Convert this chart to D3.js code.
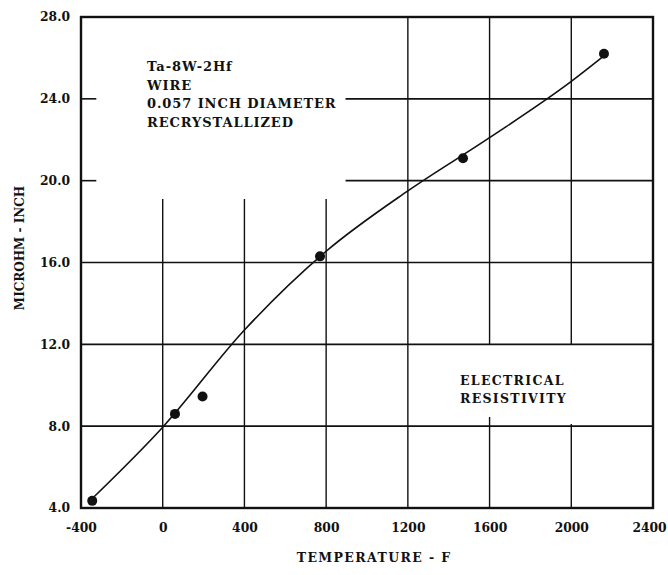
<!DOCTYPE html>
<html>
<head>
<meta charset="utf-8">
<script src="https://cdn.jsdelivr.net/npm/d3@7"></script>
<style>
  html, body { margin: 0; padding: 0; background: #fff; }
  #content { width: 668px; height: 575px; }
  text { font-family: "DejaVu Serif", serif; fill: #111; }
</style>
</head>
<body>
<div id="content"></div>
<script>
// measured points, temperature (F) vs resistivity (microhm-inch)
var tempF = [-345, 60, 195, 770, 1470, 2160];
var resistivity = [4.35, 8.6, 9.45, 16.3, 21.1, 26.2];

// faired curve through the data
var curveTemp = [-336, 0, 400, 800, 1200, 1600, 2000, 2160];
var curveRes = [4.55, 7.95, 12.7, 16.55, 19.5, 22.1, 24.85, 26.1];

var xTickValues = [-400, 0, 400, 800, 1200, 1600, 2000, 2400];
var xTickLabels = ["-400", "0", "400", "800", "1200", "1600", "2000", "2400"];
var yTickValues = [4, 8, 12, 16, 20, 24, 28];
var yTickLabels = ["4.0", "8.0", "12.0", "16.0", "20.0", "24.0", "28.0"];

// grid segments (some lines are broken around the notes)
var hGrid = [[24, -400, -325], [24, 895, 2400], [20, -400, -325], [20, 895, 2400],
             [16, -400, 2400], [12, -400, 2400], [8, -400, 2400]];
var vGrid = [[0, 4, 19.1], [400, 4, 19.1], [800, 4, 19.1], [1200, 4, 28],
             [1600, 12, 28], [1600, 4, 8.45], [2000, 12, 28], [2000, 4.05, 8.1]];

var noteLines = ["Ta-8W-2Hf", "WIRE", "0.057 INCH DIAMETER", "RECRYSTALLIZED"];
var boxLines = ["ELECTRICAL", "RESISTIVITY"];

(function(d3) {
    var width = 668, height = 575;
    var margin = {top: 17, right: 15, bottom: 67, left: 81};

    var svg = d3.select("#content").append("svg")
        .attr("viewBox", [0, 0, width, height])
        .attr("width", width).attr("height", height);

    var x = d3.scaleLinear().domain([-400, 2400]).range([margin.left, width - margin.right]);
    var y = d3.scaleLinear().domain([4, 28]).range([height - margin.bottom, margin.top]);

    // grid
    svg.append("g").selectAll("line").data(hGrid).join("line")
        .attr("x1", function(d) { return x(d[1]); })
        .attr("x2", function(d) { return x(d[2]); })
        .attr("y1", function(d) { return y(d[0]); })
        .attr("y2", function(d) { return y(d[0]); })
        .attr("stroke", "#111").attr("stroke-width", 1.6);
    svg.append("g").selectAll("line").data(vGrid).join("line")
        .attr("x1", function(d) { return x(d[0]); })
        .attr("x2", function(d) { return x(d[0]); })
        .attr("y1", function(d) { return y(d[1]); })
        .attr("y2", function(d) { return y(d[2]); })
        .attr("stroke", "#111").attr("stroke-width", 1.4);

    // frame
    svg.append("rect")
        .attr("x", x(-400)).attr("y", y(28))
        .attr("width", x(2400) - x(-400)).attr("height", y(4) - y(28))
        .attr("fill", "none").attr("stroke", "#111").attr("stroke-width", 2.4);

    // axes (labels only)
    var xAxis = svg.append("g")
        .attr("transform", "translate(0," + (height - margin.bottom) + ")")
        .call(d3.axisBottom(x).tickValues(xTickValues).tickSize(0).tickPadding(20)
            .tickFormat(function(d, i) { return xTickLabels[i]; }));
    var yAxis = svg.append("g")
        .attr("transform", "translate(" + margin.left + ",0)")
        .call(d3.axisLeft(y).tickValues(yTickValues).tickSize(0).tickPadding(11)
            .tickFormat(function(d, i) { return yTickLabels[i]; }));
    [xAxis, yAxis].forEach(function(a) {
        a.select(".domain").remove();
        a.selectAll("text")
            .attr("font-family", "DejaVu Serif").attr("font-size", 12.3)
            .attr("font-weight", "bold").attr("fill", "#111");
    });
    xAxis.selectAll("text").attr("dy", "0.3em")
        .attr("dx", function(d, i) { return i === xTickValues.length - 1 ? -4 : 0; });

    // fitted curve
    var curvePts = curveTemp.map(function(t, i) { return [t, curveRes[i]]; });
    svg.append("path")
        .datum(curvePts)
        .attr("fill", "none").attr("stroke", "#111").attr("stroke-width", 1.6)
        .attr("d", d3.line()
            .x(function(d) { return x(d[0]); })
            .y(function(d) { return y(d[1]); })
            .curve(d3.curveMonotoneX));

    // points
    svg.append("g").selectAll("circle").data(tempF).join("circle")
        .attr("cx", function(d) { return x(d); })
        .attr("cy", function(d, i) { return y(resistivity[i]); })
        .attr("r", 5).attr("fill", "#111");

    // notes
    svg.append("g").selectAll("text").data(noteLines).join("text")
        .attr("x", 147).attr("y", function(d, i) { return 71 + i * 18.7; })
        .attr("font-size", 13).attr("font-weight", "bold").attr("letter-spacing", 0.9)
        .text(function(d) { return d; });
    svg.append("g").selectAll("text").data(boxLines).join("text")
        .attr("x", 460).attr("y", function(d, i) { return 385 + i * 18; })
        .attr("font-size", 12.5).attr("font-weight", "bold").attr("letter-spacing", 1.3)
        .text(function(d) { return d; });

    // axis titles
    svg.append("text")
        .attr("x", x(1035)).attr("y", 562)
        .attr("text-anchor", "middle").attr("font-size", 12.5).attr("letter-spacing", 1.4)
        .attr("font-weight", "bold")
        .text("TEMPERATURE - F");
    svg.append("text")
        .attr("transform", "translate(24," + 248 + ") rotate(-90)")
        .attr("text-anchor", "middle").attr("font-family", "Liberation Serif")
        .attr("font-size", 12).attr("font-weight", "bold")
        .text("MICROHM - INCH");
})(d3);
</script>
</body>
</html>
